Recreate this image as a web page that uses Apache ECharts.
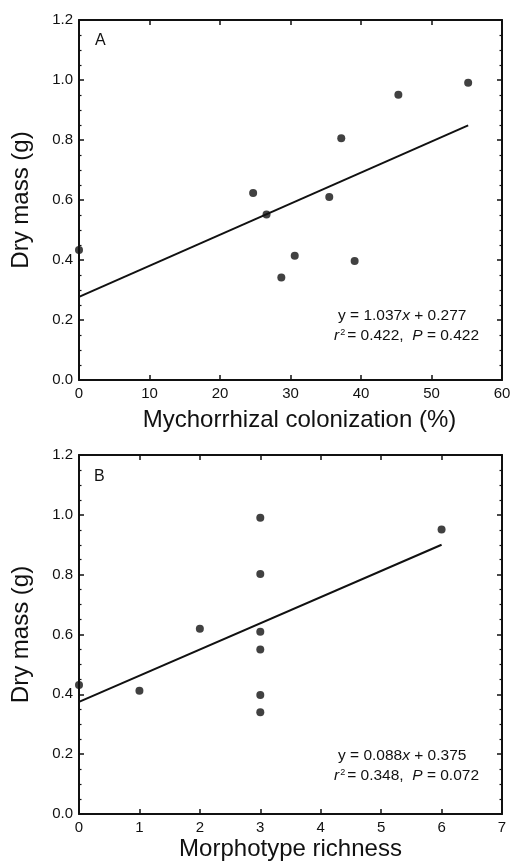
<!DOCTYPE html>
<html>
<head>
<meta charset="utf-8">
<script src="https://cdn.jsdelivr.net/npm/echarts@6/dist/echarts.min.js"></script>
<style>
html,body{margin:0;padding:0;background:#fff}
#main{width:510px;height:866px}
</style>
</head>
<body>
<div id="main"></div>
<script>
// panel A: colonization vs dry mass
var colonization = [0, 24.7, 26.6, 28.7, 30.6, 35.5, 37.2, 39.1, 45.3, 55.2];
var massA = [0.433, 0.623, 0.552, 0.342, 0.414, 0.610, 0.806, 0.397, 0.951, 0.991];
var fitA = [[0, 0.277], [55.2, 0.849]];

// panel B: morphotype richness vs dry mass
var richness = [0, 1, 2, 3, 3, 3, 3, 3, 3, 6];
var massB = [0.431, 0.412, 0.619, 0.990, 0.802, 0.609, 0.550, 0.398, 0.340, 0.951];
var fitB = [[0, 0.375], [6, 0.9]];

var FONT = '"Liberation Sans", Arial, sans-serif';
var INK = '#111';

function zip(xs, ys) {
    var out = [];
    for (var i = 0; i < xs.length; i++) out.push([xs[i], ys[i]]);
    return out;
}

function xAxisOf(grid, pos, max, name, gap, shift) {
    return {
        type: 'value', gridIndex: grid, position: pos,
        min: 0, max: max, interval: max === 60 ? 10 : 1,
        name: pos === 'bottom' ? name : '',
        nameLocation: 'middle', nameGap: gap,
        nameTextStyle: { fontFamily: FONT, fontSize: 24, color: INK, padding: [0, 0, 0, shift] },
        axisLine: { onZero: false, lineStyle: { color: INK, width: 2 } },
        axisTick: { inside: true, length: 5, lineStyle: { color: INK, width: 1.5 } },
        axisLabel: { show: pos === 'bottom', margin: 6, fontFamily: FONT, fontSize: 15, color: INK },
        splitLine: { show: false }
    };
}

function yAxisOf(grid, pos) {
    return {
        type: 'value', gridIndex: grid, position: pos,
        min: 0, max: 1.2, interval: 0.2,
        name: pos === 'left' ? 'Dry mass (g)' : '',
        nameLocation: 'middle', nameGap: 46, nameRotate: 90,
        nameTextStyle: { fontFamily: FONT, fontSize: 24, color: INK },
        axisLine: { onZero: false, lineStyle: { color: INK, width: 2 } },
        axisTick: { inside: true, length: 5, lineStyle: { color: INK, width: 1.5 } },
        minorTick: { show: true, splitNumber: 4, length: 2.5, lineStyle: { color: INK, width: 1.2 } },
        axisLabel: {
            show: pos === 'left', margin: 6, fontFamily: FONT, fontSize: 15, color: INK,
            formatter: function (v) { return v.toFixed(1); }
        },
        splitLine: { show: false }
    };
}

function statText(x, y, text) {
    return {
        type: 'text', left: x, top: y,
        style: {
            text: text, fontFamily: FONT, fontSize: 15.5, fill: INK,
            rich: {
                i: { fontFamily: FONT, fontSize: 15.5, fontStyle: 'italic', fill: INK },
                s: { fontFamily: FONT, fontSize: 9, fill: INK, verticalAlign: 'top', padding: [0, 2, 6, 1] }
            }
        }
    };
}

var myChart = echarts.init(document.getElementById('main'));
myChart.setOption({
    animation: false,
    backgroundColor: '#fff',
    grid: [
        { left: 79, top: 20, width: 423, height: 360, outerBoundsMode: 'none', containLabel: false },
        { left: 79, top: 455, width: 423, height: 359, outerBoundsMode: 'none', containLabel: false }
    ],
    xAxis: [
        xAxisOf(0, 'bottom', 60, 'Mychorrhizal colonization (%)', 28, 18),
        xAxisOf(0, 'top', 60, '', 0, 0),
        xAxisOf(1, 'bottom', 7, 'Morphotype richness', 23, 0),
        xAxisOf(1, 'top', 7, '', 0, 0)
    ],
    yAxis: [
        yAxisOf(0, 'left'),
        yAxisOf(0, 'right'),
        yAxisOf(1, 'left'),
        yAxisOf(1, 'right')
    ],
    series: [
        {
            type: 'scatter', xAxisIndex: 0, yAxisIndex: 0, clip: false,
            symbol: 'circle', symbolSize: 8, itemStyle: { color: INK },
            data: zip(colonization, massA)
        },
        {
            type: 'line', xAxisIndex: 0, yAxisIndex: 0, showSymbol: false,
            lineStyle: { color: INK, width: 2 }, data: fitA
        },
        {
            type: 'scatter', xAxisIndex: 2, yAxisIndex: 2, clip: false,
            symbol: 'circle', symbolSize: 8, itemStyle: { color: INK },
            data: zip(richness, massB)
        },
        {
            type: 'line', xAxisIndex: 2, yAxisIndex: 2, showSymbol: false,
            lineStyle: { color: INK, width: 2 }, data: fitB
        }
    ],
    graphic: [
        { type: 'text', left: 95, top: 33, style: { text: 'A', fontFamily: FONT, fontSize: 16, fill: INK } },
        { type: 'text', left: 94, top: 469, style: { text: 'B', fontFamily: FONT, fontSize: 16, fill: INK } },
        statText(338, 308, 'y = 1.037{i|x} + 0.277'),
        statText(334, 328, '{i|r}{s|2}= 0.422,  {i|P} = 0.422'),
        statText(338, 748, 'y = 0.088{i|x} + 0.375'),
        statText(334, 768, '{i|r}{s|2}= 0.348,  {i|P} = 0.072')
    ]
});
</script>
</body>
</html>
